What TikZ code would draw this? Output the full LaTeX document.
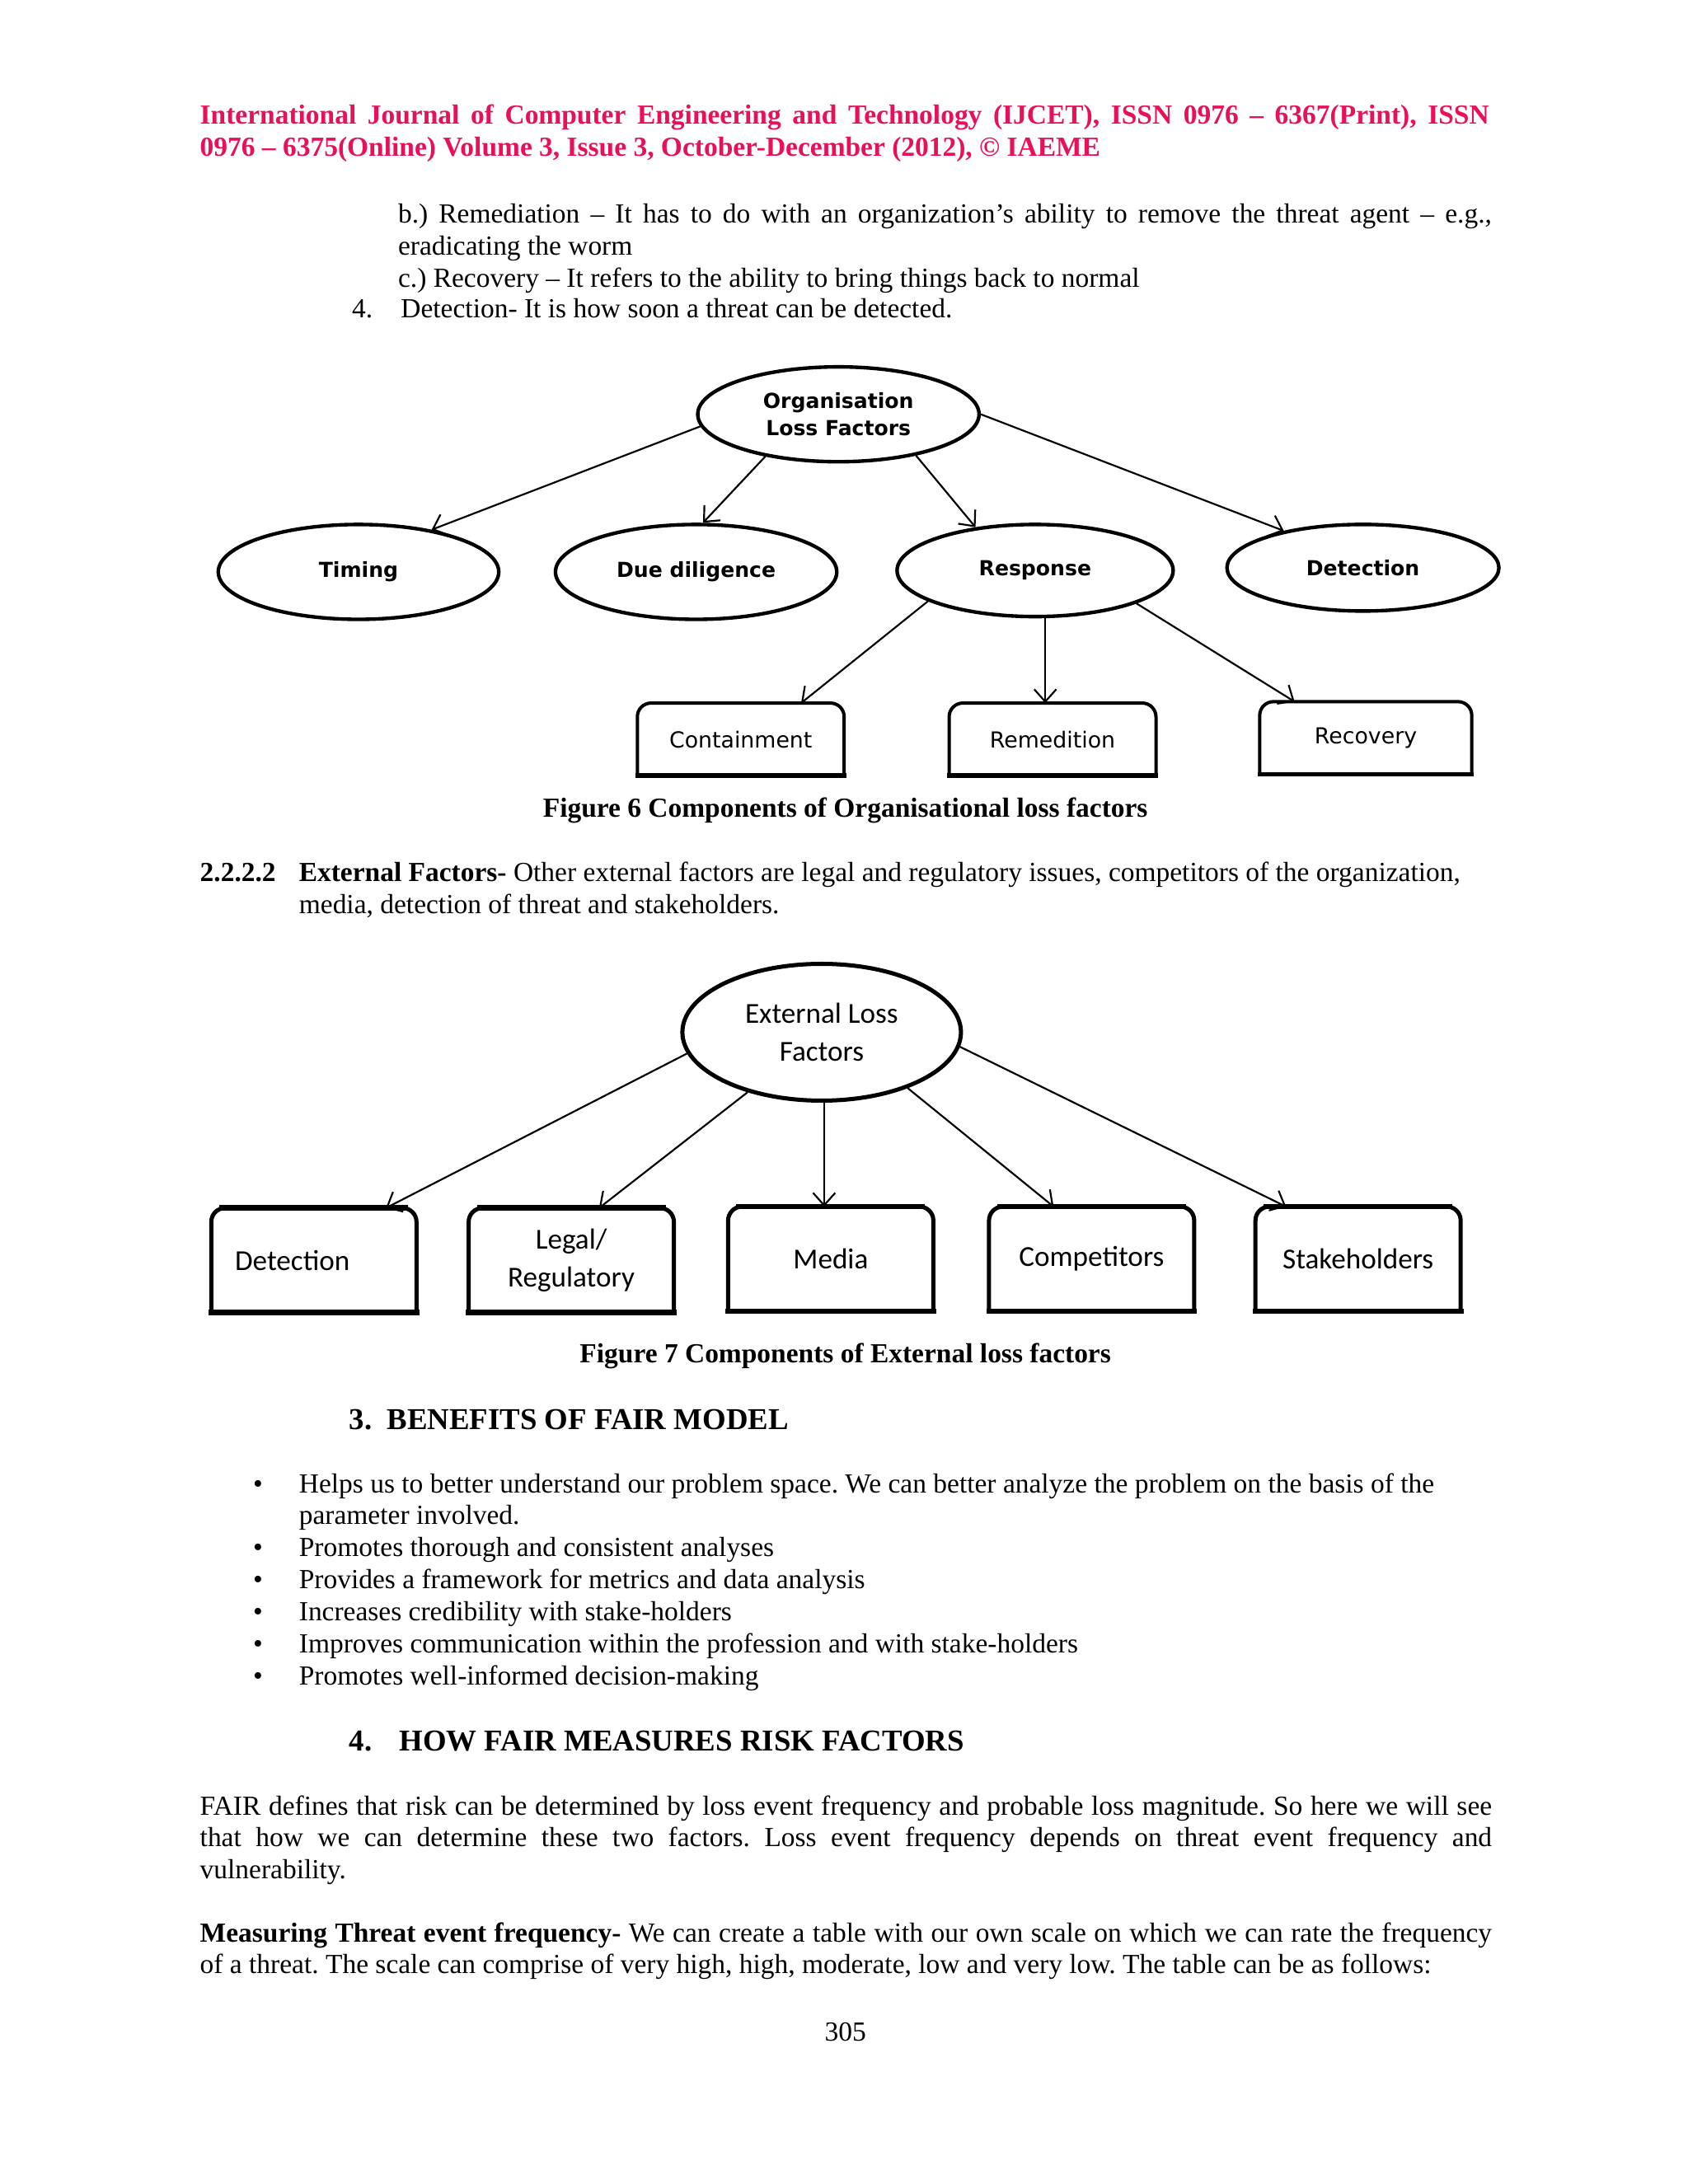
\documentclass[tikz,border=0pt]{standalone}
\usepackage{fontspec}
\setmainfont{Liberation Serif}
\newfontfamily\verdana{DejaVu Sans}
\newfontfamily\calibri{Carlito}
\usetikzlibrary{shapes.geometric,arrows.meta}
\definecolor{iaeme}{RGB}{232,16,90}
\frenchspacing

\begin{document}
\begin{tikzpicture}[x=0.5058pt, y=-0.5058pt,
  body/.style = {anchor=base west, inner sep=0pt, font=\fontsize{10}{11.63}\selectfont},
  capt/.style = {anchor=base, inner sep=0pt, font=\bfseries\fontsize{10}{11.63}\selectfont},
  head/.style = {anchor=base west, inner sep=0pt, font=\bfseries\fontsize{11}{13}\selectfont},
  oval/.style = {draw, ellipse, line width=1.3pt, inner sep=0pt, align=center, font=\verdana\bfseries\fontsize{7.5}{9.6}\selectfont},
  box/.style = {rectangle, outer sep=0pt, minimum width=75pt, minimum height=26.3pt, font=\verdana\fontsize{8}{10}\selectfont},
  bigoval/.style = {draw, ellipse, line width=1.5pt, inner sep=0pt, align=center, minimum width=101pt, minimum height=49.6pt, font=\calibri\fontsize{10.5}{13.8}\selectfont},
  bigbox/.style = {rectangle, outer sep=0pt, minimum width=74.4pt, minimum height=37.9pt, align=center, font=\calibri\fontsize{10.5}{13.8}\selectfont},
  arr/.style = {-{Straight Barb[length=4.5pt,width=8pt]}, line width=0.65pt}]

\fill[white] (0,0) rectangle (1210,1565.7);

% header
\node[body, font=\bfseries\fontsize{10}{11.63}\selectfont, text=iaeme] (h1) at (143,89) {\hbox to 467.4pt{International Journal of Computer Engineering and Technology (IJCET), ISSN 0976 – 6367(Print), ISSN}};
\node[body, font=\bfseries\fontsize{10}{11.63}\selectfont, text=iaeme] (h2) at (143,112) {0976 – 6375(Online) Volume 3, Issue 3, October-December (2012), © IAEME};

\node[body] (b1) at (285,160) {\hbox to 396.5pt{b.) Remediation – It has to do with an organization’s ability to remove the threat agent – e.g.,}};
\node[body] (b2) at (285,183) {eradicating the worm};
\node[body] (b3) at (285,206) {c.) Recovery – It refers to the ability to bring things back to normal};
\node[body] (b4) at (252,228) {\makebox[17.7pt][l]{4.}Detection- It is how soon a threat can be detected.};

% figure 6
\node[oval, minimum width=102pt, minimum height=34.4pt] (1) at (601,297) {Organisation\\Loss Factors};
\node[oval, minimum width=101.7pt, minimum height=34.4pt] (2) at (257,410) {Timing};
\node[oval, minimum width=102pt, minimum height=34.4pt] (3) at (499,410) {Due diligence};
\node[oval, minimum width=100.1pt, minimum height=33.4pt] (4) at (742,409) {Response};
\node[oval, minimum width=98.6pt, minimum height=31.4pt] (5) at (977,407) {Detection};

\node[box] (6) at (531,530) {Containment};
\node[box] (7) at (754.5,530) {Remedition};
\node[box, minimum width=76.9pt] (8) at (979,529) {Recovery};

\draw[arr] (1.185) -- (2.30);
\draw[arr] (1.210) -- (3.82);
\draw[arr] (1.332) -- (4.144);
\draw[arr] (1.0) -- (5.155);
\draw[arr] (4.196) -- (6.31);
\draw[arr] (4.282) -- (4.282 |- 7.north);
\draw[arr] (4.342) -- (8.153);

\foreach \n in {6,7,8} {
  \draw[line width=1.2pt, rounded corners=5pt] (\n.south west) -- (\n.north west) -- (\n.north east) -- (\n.south east);
  \draw[line width=1.6pt, line cap=rect] (\n.south west) -- (\n.south east);
}

\node[capt] (c6) at (606,586) {Figure 6 Components of Organisational loss factors};

\node[body] (s1) at (143,632) {\makebox[35.9pt][l]{\bfseries 2.2.2.2}\textbf{External Factors-} Other external factors are legal and regulatory issues, competitors of the organization,};
\node[body] (s2) at (214,655) {media, detection of threat and stakeholders.};

% figure 7
\node[bigoval] (9) at (589,740) {External Loss\\Factors};

\node[bigbox, text width=57.2pt, inner xsep=8.6pt, align=left] (10) at (225,903.5) {Detection};
\node[bigbox] (11) at (409.5,903.5) {Legal/\\Regulatory};
\node[bigbox] (12) at (595.5,902.5) {Media};
\node[bigbox] (13) at (782.5,902.5) {Competitors};
\node[bigbox] (14) at (973.5,902.5) {Stakeholders};

\draw[arr] (9.189) -- (10.36);
\draw[arr] (9.219) -- (11.62);
\draw[arr] (9.272) -- (9.272 |- 12.north);
\draw[arr] (9.327) -- (13.126);
\draw[arr] (9.354) -- (14.144);

\foreach \n in {10,11,12,13,14} {
  \draw[line width=1.5pt, rounded corners=5pt] (\n.south west) -- (\n.north west) -- (\n.north east) -- (\n.south east);
  \draw[line width=2pt, line cap=rect] (\n.north west) ++(4pt,0) -- ([xshift=-4pt]\n.north east);
  \draw[line width=2pt, line cap=rect] (\n.south west) -- (\n.south east);
}

\node[capt] (c7) at (606,977) {Figure 7 Components of External loss factors};

% section 3
\node[head] (t3) at (250,1025) {\makebox[13.7pt][l]{3.}BENEFITS OF FAIR MODEL};

\node[body] (l1) at (181,1070) {\makebox[16.7pt][l]{•}Helps us to better understand our problem space. We can better analyze the problem on the basis of the};
\node[body] (l1b) at (214,1093) {parameter involved.};
\node[body] (l2) at (181,1116) {\makebox[16.7pt][l]{•}Promotes thorough and consistent analyses};
\node[body] (l3) at (181,1139) {\makebox[16.7pt][l]{•}Provides a framework for metrics and data analysis};
\node[body] (l4) at (181,1162) {\makebox[16.7pt][l]{•}Increases credibility with stake-holders};
\node[body] (l5) at (181,1185) {\makebox[16.7pt][l]{•}Improves communication within the profession and with stake-holders};
\node[body] (l6) at (181,1208) {\makebox[16.7pt][l]{•}Promotes well-informed decision-making};

% section 4
\node[head] (t4) at (250,1255) {\makebox[18.2pt][l]{4.}HOW FAIR MEASURES RISK FACTORS};

\node[body] (p1) at (143,1301) {\hbox to 468.4pt{FAIR defines that risk can be determined by loss event frequency and probable loss magnitude. So here we will see}};
\node[body] (p2) at (143,1324) {\hbox to 468.4pt{that how we can determine these two factors. Loss event frequency depends on threat event frequency and}};
\node[body] (p3) at (143,1347) {vulnerability.};

\node[body] (m1) at (143,1392) {\hbox to 468.4pt{\textbf{Measuring Threat event frequency-} We can create a table with our own scale on which we can rate the frequency}};
\node[body] (m2) at (143,1415) {of a threat. The scale can comprise of very high, high, moderate, low and very low. The table can be as follows:};

\node[capt, font=\fontsize{10}{11.63}\selectfont] (pg) at (606,1463) {305};

\end{tikzpicture}
\end{document}
